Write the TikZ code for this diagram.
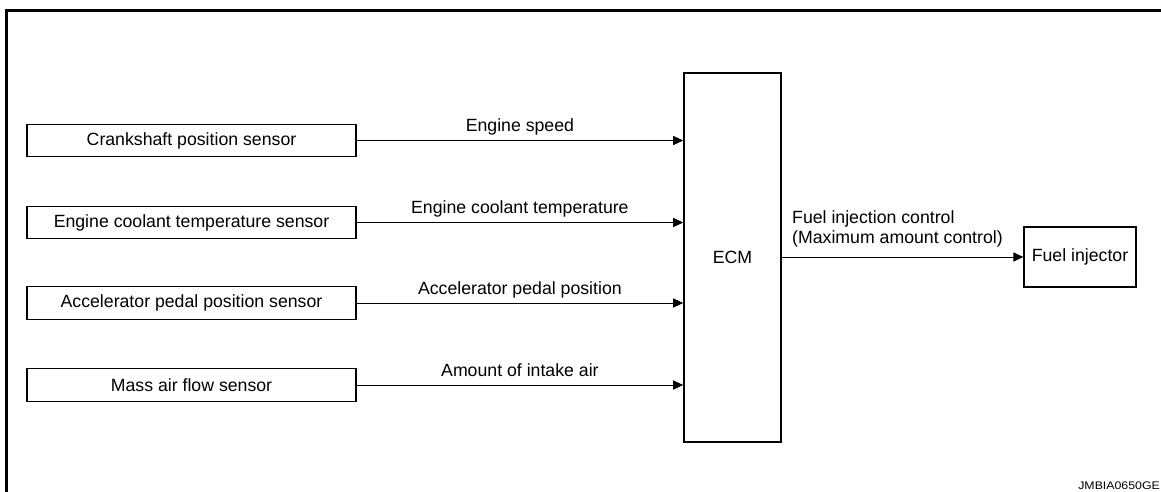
\documentclass[tikz,border=0pt]{standalone}
\usepackage{fontspec}
\usepackage{graphicx}
\setmainfont{Liberation Sans}
\usetikzlibrary{arrows.meta}
\begin{document}
\begin{tikzpicture}[x=1pt,y=-1pt,
  font=\fontsize{17.7}{19.5}\selectfont,
  sensorbox/.style={draw=black, line width=1.2pt, minimum width=329pt, minimum height=32.5pt, inner sep=0pt},
  ecmbox/.style={draw=black, line width=1.6pt, minimum width=97pt, minimum height=369pt, inner sep=0pt},
  outbox/.style={draw=black, line width=1.2pt, minimum width=112pt, minimum height=60pt, inner sep=0pt},
  sig/.style={draw=black, line width=1pt, -{Triangle[length=10pt,width=9pt]}},
  siglabel/.style={anchor=base, inner sep=0pt, yshift=9pt},
  frameline/.style={draw=black, line width=3pt}
]
\useasboundingbox (0,0) rectangle (1161,491);
\clip (0,0) rectangle (1161,491);
% frame
\coordinate (fbl) at (6.5,500);
\coordinate (ftr) at (1170,10.5);
\draw[frameline] (fbl) |- (ftr);
% nodes
\node[sensorbox] (crank) at (191.5,140.5) {Crankshaft position sensor};
\node[sensorbox] (cool) at (191.5,222.5) {Engine coolant temperature sensor};
\node[sensorbox] (accel) at (191.5,303) {Accelerator pedal position sensor};
\node[sensorbox] (maf) at (191.5,385) {Mass air flow sensor};
\node[ecmbox] (ecm) at (732.5,257.5) {ECM};
\node[outbox] (inj) at (1080,257) {Fuel injector};
% connectors
\draw[sig] (crank.east) -- (crank.east -| ecm.west) node[siglabel, midway] (l1) {Engine speed};
\draw[sig] (cool.east) -- (cool.east -| ecm.west) node[siglabel, midway] (l2) {Engine coolant temperature};
\draw[sig] (accel.east) -- (accel.east -| ecm.west) node[siglabel, midway] (l3) {Accelerator pedal position};
\draw[sig] (maf.east) -- (maf.east -| ecm.west) node[siglabel, midway] (l4) {Amount of intake air};
\draw[sig] (inj.west -| ecm.east) -- (inj.west);
\node[anchor=north west, inner sep=0pt, align=left] (outlabel) at (792,210.5) {Fuel injection control\\(Maximum amount control)};
% code
\node[anchor=base east, inner sep=0pt, font=\fontsize{11}{13}\selectfont] (code) at (1160,489) {\scalebox{1.12}[1]{JMBIA0650GE}};
\end{tikzpicture}
\end{document}
